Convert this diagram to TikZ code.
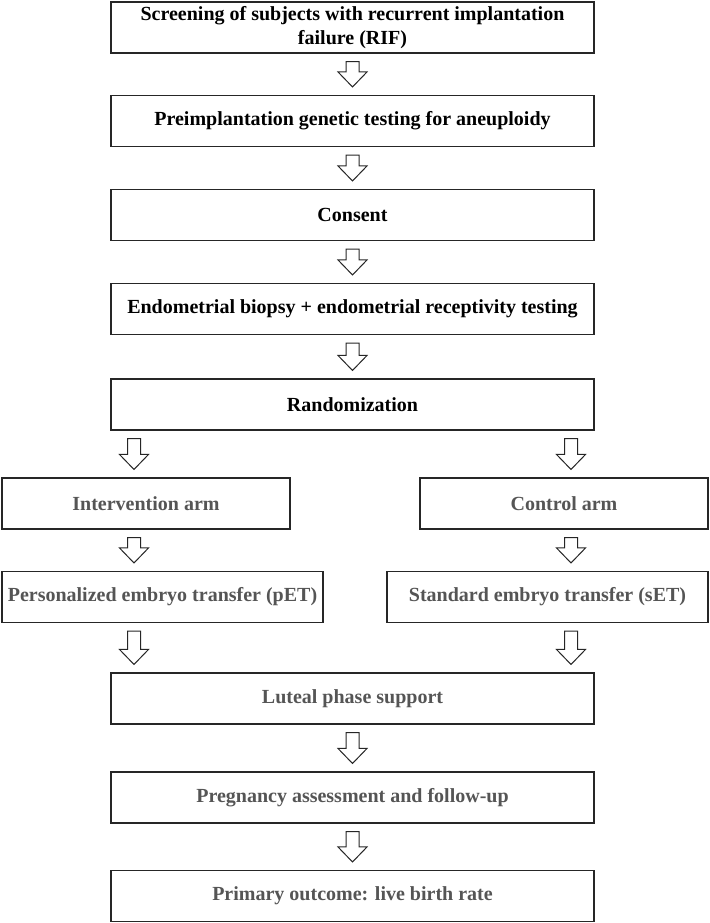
\documentclass[tikz,border=0pt]{standalone}
\usepackage{fontspec}
\setmainfont{Liberation Serif}
\usetikzlibrary{calc}
\definecolor{boxtext}{RGB}{85,85,85}

\begin{document}
\begin{tikzpicture}[x=1pt,y=-1pt]
				\tikzstyle{stage}=[rectangle,draw=black!85,line width=1.1pt,minimum height=51pt,inner sep=0pt,align=center,font=\fontsize{20}{24}\selectfont\bfseries]
				\tikzstyle{wide}=[stage,minimum width=483pt]
				\tikzstyle{arm}=[stage,minimum width=288pt,text=boxtext]
				\tikzstyle{pet}=[stage,minimum width=321pt,text=boxtext]
				\tikzstyle{fat}=[draw=black!85,line width=1pt,line join=miter,
					to path={let \p1=(\tikztostart), \p2=(\tikztotarget) in
						(\x1-6.5pt,\y1-8pt) -- (\x1+6.5pt,\y1-8pt) -- (\x1+6.5pt,\y2+23pt) -- (\x1+14.5pt,\y2+23pt)
						-- (\x1,\y2+8pt) -- (\x1-14.5pt,\y2+23pt) -- (\x1-6.5pt,\y2+23pt) -- cycle}]
				\useasboundingbox (0,0) rectangle (709,923);
				\coordinate (colL) at (134,0);
				\coordinate (colR) at (571,0);
				% main chain
				\node[wide] (screen) at (352.5,27.5) {Screening of subjects with recurrent implantation\\failure (RIF)};
				\node[wide] (pgta) at (352.5,121) {Preimplantation genetic testing for aneuploidy};
				\node[wide] (consent) at (352.5,215) {Consent};
				\node[wide] (biopsy) at (352.5,309) {Endometrial biopsy + endometrial receptivity testing};
				\node[wide] (random) at (352.5,404.5) {Randomization};
				% two arms
				\node[arm] (armL) at (146,503.5) {Intervention arm};
				\node[arm] (armR) at (564,503.5) {Control arm};
				\node[pet] (petL) at (162.5,597) {Personalized embryo transfer (pET)};
				\node[pet] (petR) at (547.5,597) {Standard embryo transfer (sET)};
				% after transfer
				\node[wide,text=boxtext] (luteal) at (352.5,698.5) {Luteal phase support};
				\node[wide,text=boxtext] (preg) at (352.5,797.5) {Pregnancy assessment and follow-up};
				\node[wide,text=boxtext] (outcome) at (352.5,896) {Primary outcome: live birth rate};

				\draw[fat] (screen.south) to (pgta.north);
				\draw[fat] (pgta.south) to (consent.north);
				\draw[fat] (consent.south) to (biopsy.north);
				\draw[fat] (biopsy.south) to (random.north);
				\draw[fat] (random.south -| colL) to (armL.north -| colL);
				\draw[fat] (random.south -| colR) to (armR.north -| colR);
				\draw[fat] (armL.south -| colL) to (petL.north -| colL);
				\draw[fat] (armR.south -| colR) to (petR.north -| colR);
				\draw[fat] (petL.south -| colL) to (luteal.north -| colL);
				\draw[fat] (petR.south -| colR) to (luteal.north -| colR);
				\draw[fat] (luteal.south) to (preg.north);
				\draw[fat] (preg.south) to (outcome.north);
\end{tikzpicture}
\end{document}
